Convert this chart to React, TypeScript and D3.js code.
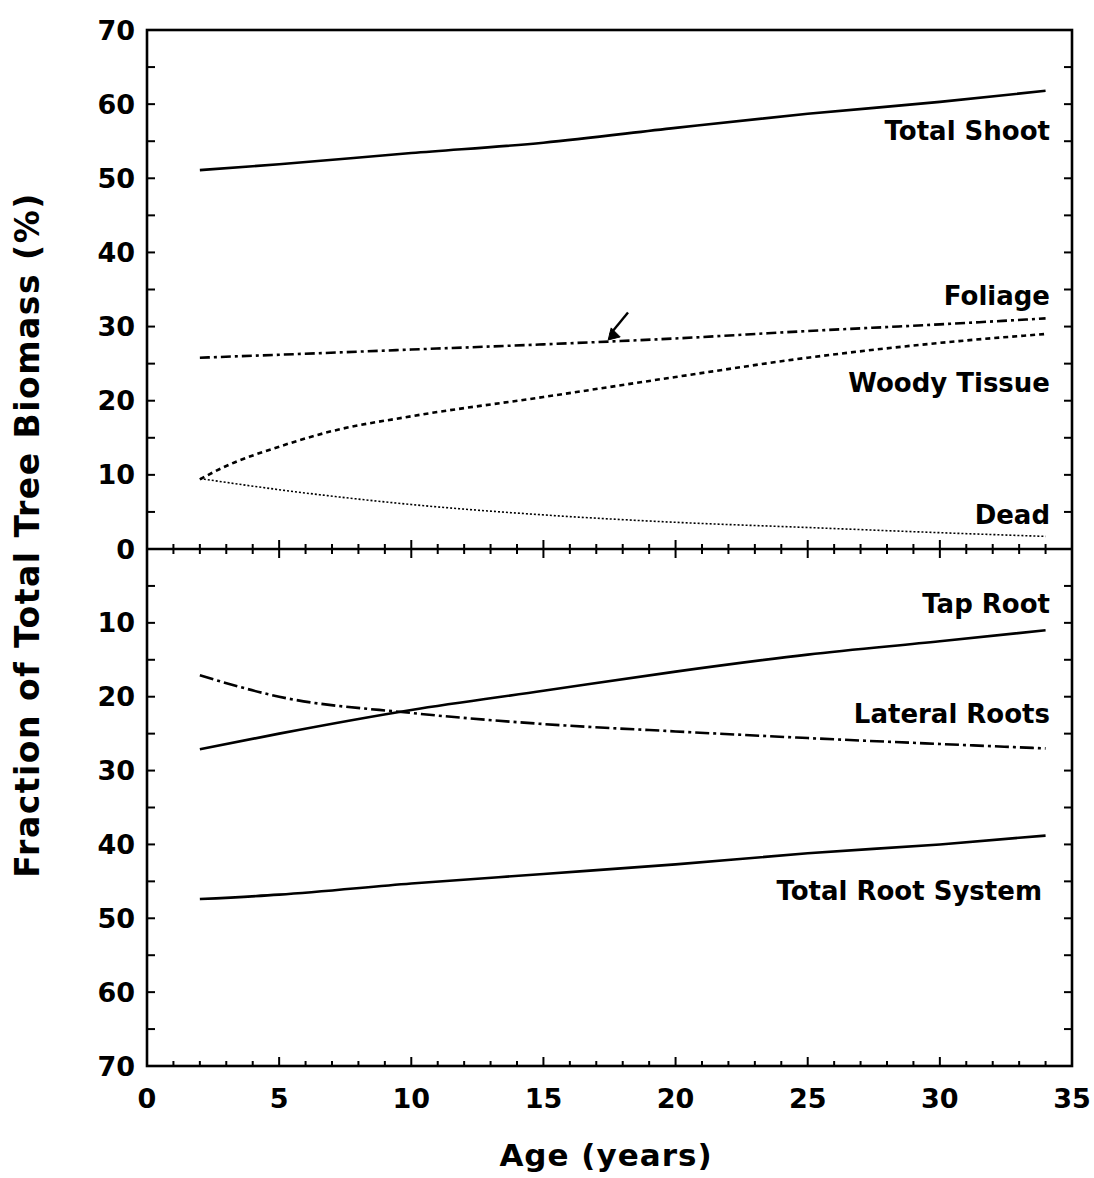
import React from 'react';
import * as d3 from 'd3';

const years = [2, 5, 10, 15, 20, 25, 30, 34];
const woodyYears = [2, 3, 5, 7, 10, 15, 20, 25, 30, 34];

// upper panel (shoot)
const totalShoot = [51.1, 51.9, 53.4, 54.8, 56.8, 58.7, 60.3, 61.8];
const foliage = [25.8, 26.2, 26.9, 27.6, 28.4, 29.4, 30.3, 31.1];
const woody = [9.4, 11.2, 13.8, 15.9, 17.9, 20.5, 23.2, 25.8, 27.8, 29.0];
const dead = [9.5, 8.0, 6.0, 4.6, 3.6, 2.9, 2.2, 1.7];

// lower panel (roots)
const tapRoot = [27.1, 25.0, 21.8, 19.2, 16.6, 14.3, 12.5, 11.0];
const lateralRoots = [17.1, 20.0, 22.2, 23.7, 24.7, 25.6, 26.4, 27.0];
const totalRoot = [47.4, 46.8, 45.3, 44.0, 42.7, 41.2, 40.0, 38.8];

const xTicks = [0, 5, 10, 15, 20, 25, 30, 35];
const yTopTicks = [0, 10, 20, 30, 40, 50, 60, 70];
const yBotTicks = [10, 20, 30, 40, 50, 60, 70];

const W = 1094;
const H = 1178;
const FONT = "'DejaVu Sans', sans-serif";

export default function App() {
  const x = d3.scaleLinear().domain([0, 35]).range([147, 1072]);
  const yTop = d3.scaleLinear().domain([0, 70]).range([549, 30]);
  const yBot = d3.scaleLinear().domain([0, 70]).range([549, 1066]);

  const lineTop = d3.line<[number, number]>()
    .x(d => x(d[0])).y(d => yTop(d[1])).curve(d3.curveMonotoneX);
  const lineBot = d3.line<[number, number]>()
    .x(d => x(d[0])).y(d => yBot(d[1])).curve(d3.curveMonotoneX);

  const pts = (xs: number[], vs: number[]) => xs.map((v, i) => [v, vs[i]] as [number, number]);

  const series = [
    { d: lineTop(pts(years, totalShoot)), w: 2.6, dash: null },
    { d: lineTop(pts(years, foliage)), w: 2.6, dash: '10,4,3,4' },
    { d: lineTop(pts(woodyYears, woody)), w: 2.6, dash: '5,4' },
    { d: lineTop(pts(years, dead)), w: 1.6, dash: '2,2' },
    { d: lineBot(pts(years, tapRoot)), w: 2.6, dash: null },
    { d: lineBot(pts(years, lateralRoots)), w: 2.6, dash: '14,4,3,4' },
    { d: lineBot(pts(years, totalRoot)), w: 2.6, dash: null },
  ];

  const labels = [
    { t: 'Total Shoot', x: 1050, y: yTop(56.4) },
    { t: 'Foliage', x: 1050, y: yTop(34.1) },
    { t: 'Woody Tissue', x: 1050, y: yTop(22.4) },
    { t: 'Dead', x: 1050, y: yTop(4.6) },
    { t: 'Tap Root', x: 1050, y: yBot(7.4) },
    { t: 'Lateral Roots', x: 1050, y: yBot(22.3) },
    { t: 'Total Root System', x: 1042, y: yBot(46.3) },
  ];

  const x0 = x(0), x1 = x(35);
  const yearTicks = d3.range(1, 35);
  const pctTicks = d3.range(5, 70, 5);

  return (
    <svg width={W} height={H} style={{ position: 'absolute', left: 0, top: 0, background: '#fff' }}>
      <g stroke="#000" fill="none" strokeWidth={2.6}>
        <rect x={x0} y={yTop(70)} width={x1 - x0} height={yBot(70) - yTop(70)} />
        <line x1={x0} x2={x1} y1={yTop(0)} y2={yTop(0)} />
      </g>
      {/* vertical axis ticks, inward on both sides */}
      <g stroke="#000" strokeWidth={2}>
        {pctTicks.map(v => (
          <g key={'p' + v}>
            <line x1={x0} x2={x0 + 8} y1={yTop(v)} y2={yTop(v)} />
            <line x1={x0} x2={x0 + 8} y1={yBot(v)} y2={yBot(v)} />
            <line x1={x1} x2={x1 - 8} y1={yTop(v)} y2={yTop(v)} />
            <line x1={x1} x2={x1 - 8} y1={yBot(v)} y2={yBot(v)} />
          </g>
        ))}
        {yearTicks.map(v => {
          const major = v % 5 === 0;
          return (
            <g key={'y' + v}>
              <line x1={x(v)} x2={x(v)} y1={yBot(70)} y2={yBot(70) - (major ? 9 : 5)} />
              <line x1={x(v)} x2={x(v)} y1={yTop(0) - (major ? 9 : 5)} y2={yTop(0) + (major ? 9 : 5)} />
            </g>
          );
        })}
      </g>

      {series.map((s, i) => (
        <path key={i} d={s.d || ''} fill="none" stroke="#000" strokeWidth={s.w}
          strokeDasharray={s.dash || undefined} />
      ))}

      {/* arrow pointing at foliage line */}
      <g stroke="#000" strokeWidth={2.4} fill="#000">
        <line x1={x(18.2)} y1={yTop(31.9)} x2={x(17.45) + 2} y2={yTop(28.7) - 2} />
        <path d={`M${x(17.45)},${yTop(28.2)} l3,-12 l9,9 z`} strokeWidth={1} />
      </g>

      <g fontFamily={FONT} fontWeight="bold" fontSize={26} fill="#000">
        {labels.map(l => (
          <text key={l.t} x={l.x} y={l.y} textAnchor="end" dominantBaseline="central">{l.t}</text>
        ))}
      </g>

      <g fontFamily={FONT} fontWeight="bold" fontSize={27} fill="#000">
        {yTopTicks.map(v => (
          <text key={'t' + v} x={135} y={yTop(v)} textAnchor="end" dominantBaseline="central">{v}</text>
        ))}
        {yBotTicks.map(v => (
          <text key={'b' + v} x={135} y={yBot(v)} textAnchor="end" dominantBaseline="central">{v}</text>
        ))}
        {xTicks.map(v => (
          <text key={'x' + v} x={x(v)} y={1108} textAnchor="middle">{v}</text>
        ))}
      </g>

      <text x={606} y={1166} textAnchor="middle" fontFamily={FONT} fontWeight="bold" fontSize={31}
        letterSpacing={1} fill="#000">Age (years)</text>
      <text transform={`translate(39,535) rotate(-90)`} textAnchor="middle"
        fontFamily={FONT} fontWeight="bold" fontSize={33} letterSpacing={1.5} fill="#000">Fraction of Total Tree Biomass (%)</text>
    </svg>
  );
}
